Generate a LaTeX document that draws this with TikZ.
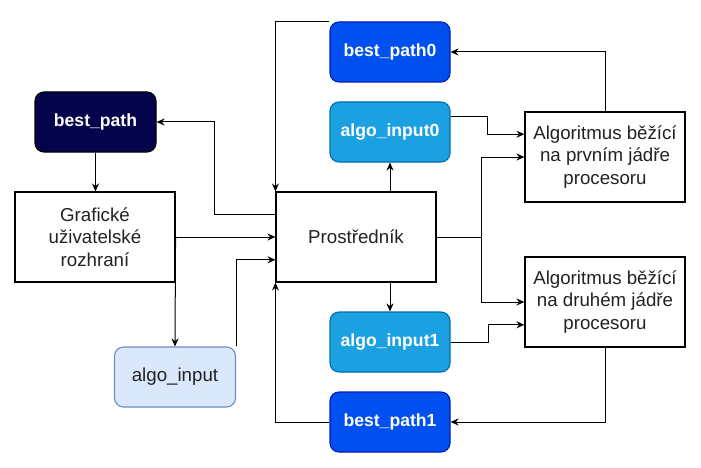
\documentclass[tikz,border=0pt]{standalone}
\usepackage{fontspec}
\setmainfont{Liberation Sans}
\usetikzlibrary{arrows.meta,calc}
\definecolor{navyfill}{HTML}{04044C}
\definecolor{bluefill}{HTML}{0050EF}
\definecolor{bluestroke}{HTML}{001DBC}
\definecolor{cyanfill}{HTML}{1BA1E2}
\definecolor{cyanstroke}{HTML}{006EAF}
\definecolor{lightfill}{HTML}{DAE8FC}
\definecolor{lightstroke}{HTML}{6C8EBF}
\definecolor{txt}{HTML}{222222}
\begin{document}
\begin{tikzpicture}[x=1pt,y=-1pt,
  lbl/.style={font=\fontsize{18.7}{22.4}\selectfont, align=center, inner sep=0pt},
  box/.style={lbl, draw=black, line width=1.1pt, fill=white, text=txt,
    minimum width=160pt, minimum height=90pt},
  rbox/.style={lbl, rounded corners=9pt, line width=1.1pt,
    minimum width=120pt, minimum height=60pt},
  boldlbl/.style={font=\fontsize{17.6}{21}\selectfont\bfseries},
  navybox/.style={rbox, boldlbl, fill=navyfill, draw=black, text=white, minimum width=121pt},
  bluebox/.style={rbox, boldlbl, fill=bluefill, draw=bluestroke, text=white},
  cyanbox/.style={rbox, boldlbl, fill=cyanfill, draw=cyanstroke, text=white},
  lightbox/.style={rbox, fill=lightfill, draw=lightstroke, text=txt, minimum width=121pt},
  conn/.style={line width=1pt, -{Stealth[length=8pt,width=7pt]}}
]
\useasboundingbox (0,0) rectangle (701,468);

\node[navybox] (bp) at (95.5,122) {best\_path};
\node[box] (gui) at (95,237) {Grafické\\uživatelské\\rozhraní};
\node[lightbox] (ai) at (175,377) {algo\_input};
\node[box] (pr) at (356,237) {Prostředník};
\node[bluebox] (bp0) at (390,52) {best\_path0};
\node[cyanbox] (ai0) at (390,132) {algo\_input0};
\node[cyanbox] (ai1) at (390,342) {algo\_input1};
\node[bluebox] (bp1) at (390,422) {best\_path1};
\node[box] (a1) at (605,157) {Algoritmus běžící\\na prvním jádře\\procesoru};
\node[box] (a2) at (605,302) {Algoritmus běžící\\na druhém jádře\\procesoru};

\coordinate (prW25) at ($(pr.north west)!0.25!(pr.south west)$);
\coordinate (prW75) at ($(pr.north west)!0.75!(pr.south west)$);
\coordinate (ai0E25) at ($(ai0.north east)!0.25!(ai0.south east)$);
\coordinate (a1W25) at ($(a1.north west)!0.25!(a1.south west)$);
\coordinate (a2W75) at ($(a2.north west)!0.75!(a2.south west)$);

\draw[conn] (bp.south) -- (bp.south |- gui.north);
\draw[conn] (gui.east) -- (pr.west);
\draw[conn] (gui.east) -- (ai.north);
\draw[conn] (ai.north east) |- (prW75);
\draw[conn] (prW25) -- ++(-61,0) |- (bp.east);
\draw[conn] (bp0.north west) -| (pr.north west);
\draw[conn] (ai0.south |- pr.north) -- (ai0.south);
\draw[conn] (ai0E25) -- ++(37,0) |- (a1W25);
\draw[conn] (pr.east) -- ++(45,0) |- (a1.west);
\draw[conn] (pr.east) -- ++(45,0) |- (a2.west);
\draw[conn] (a1.north) |- (bp0.east);
\draw[conn] (ai1.north |- pr.south) -- (ai1.north);
\draw[conn] (ai1.east) -- ++(38,0) |- (a2W75);
\draw[conn] (a2.south) |- (bp1.east);
\draw[conn] (bp1.west) -| (pr.south west);
\end{tikzpicture}
\end{document}
